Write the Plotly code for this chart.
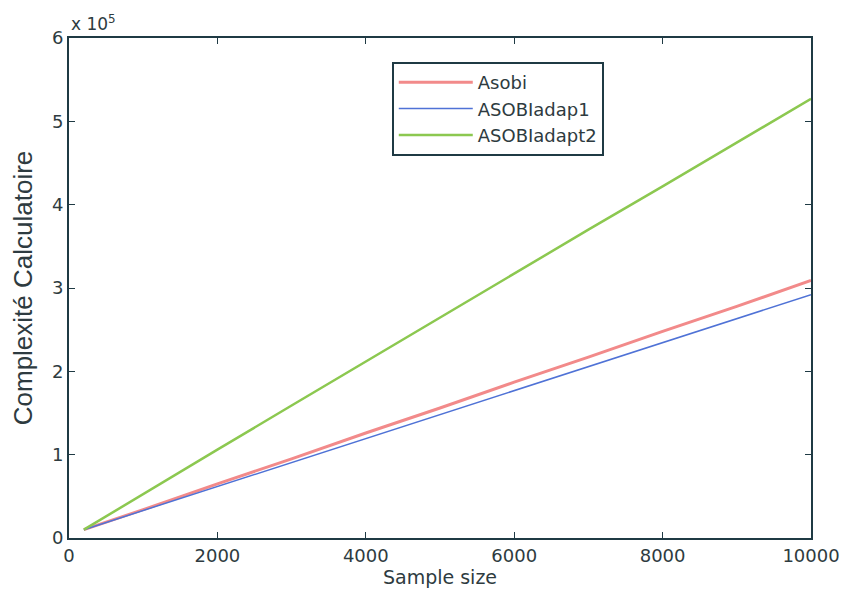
import plotly.graph_objects as go

sample_size = [200, 1000, 2000, 3000, 4000, 5000, 6000, 7000, 8000, 9000, 10000]
asobi = [0.10e5, 0.34e5, 0.65e5, 0.95e5, 1.26e5, 1.56e5, 1.87e5, 2.17e5, 2.48e5, 2.78e5, 3.09e5]
asobiadap1 = [0.10e5, 0.33e5, 0.62e5, 0.90e5, 1.19e5, 1.48e5, 1.77e5, 2.05e5, 2.34e5, 2.63e5, 2.92e5]
asobiadapt2 = [0.10e5, 0.53e5, 1.06e5, 1.59e5, 2.12e5, 2.64e5, 3.17e5, 3.70e5, 4.22e5, 4.75e5, 5.27e5]
series_names = ["Asobi", "ASOBIadap1", "ASOBIadapt2"]
xticks = [0, 2000, 4000, 6000, 8000, 10000]
yticks = [0, 1e5, 2e5, 3e5, 4e5, 5e5, 6e5]
ytick_labels = ["0", "1", "2", "3", "4", "5", "6"]

font = "DejaVu Sans, Liberation Sans, Arial, sans-serif"
txt = "#2e3b40"

fig = go.Figure()
fig.add_trace(go.Scatter(x=sample_size, y=asobi, mode="lines", name=series_names[0],
                         line=dict(color="#f28a8a", width=3)))
fig.add_trace(go.Scatter(x=sample_size, y=asobiadap1, mode="lines", name=series_names[1],
                         line=dict(color="#4f72d6", width=1.5)))
fig.add_trace(go.Scatter(x=sample_size, y=asobiadapt2, mode="lines", name=series_names[2],
                         line=dict(color="#8cc850", width=2.5)))

axis_common = dict(showline=True, linecolor="#1f3a44", linewidth=2, mirror="ticks",
                   ticks="inside", ticklen=6, tickcolor="#1f3a44", showgrid=False,
                   zeroline=False, automargin=False,
                   tickfont=dict(family=font, size=18, color=txt))

fig.update_xaxes(range=[0, 10000], tickvals=xticks, ticktext=[str(v) for v in xticks],
                 title=dict(text="Sample size", font=dict(family=font, size=19, color=txt),
                            standoff=2),
                 **axis_common)
fig.update_yaxes(range=[0, 6e5], tickvals=yticks, ticktext=ytick_labels,
                 title=dict(text="Complexité Calculatoire",
                            font=dict(family="Liberation Sans, Arial, sans-serif",
                                      size=26, color=txt), standoff=12),
                 **axis_common)

fig.add_annotation(x=0, y=1, xref="paper", yref="paper", xanchor="left", yanchor="bottom",
                   text="x 10<sup>5</sup>", showarrow=False, yshift=2,
                   font=dict(family=font, size=17, color=txt))

fig.update_layout(
    width=848, height=592,
    margin=dict(l=69, r=37, t=38, b=54),
    paper_bgcolor="white", plot_bgcolor="white",
    legend=dict(x=0.435, y=0.952, xanchor="left", yanchor="top",
                bordercolor="#1f3a44", borderwidth=2, bgcolor="white",
                font=dict(family=font, size=18, color=txt),
                itemwidth=74, tracegroupgap=0),
    showlegend=True,
)

fig.write_html("out.html")
